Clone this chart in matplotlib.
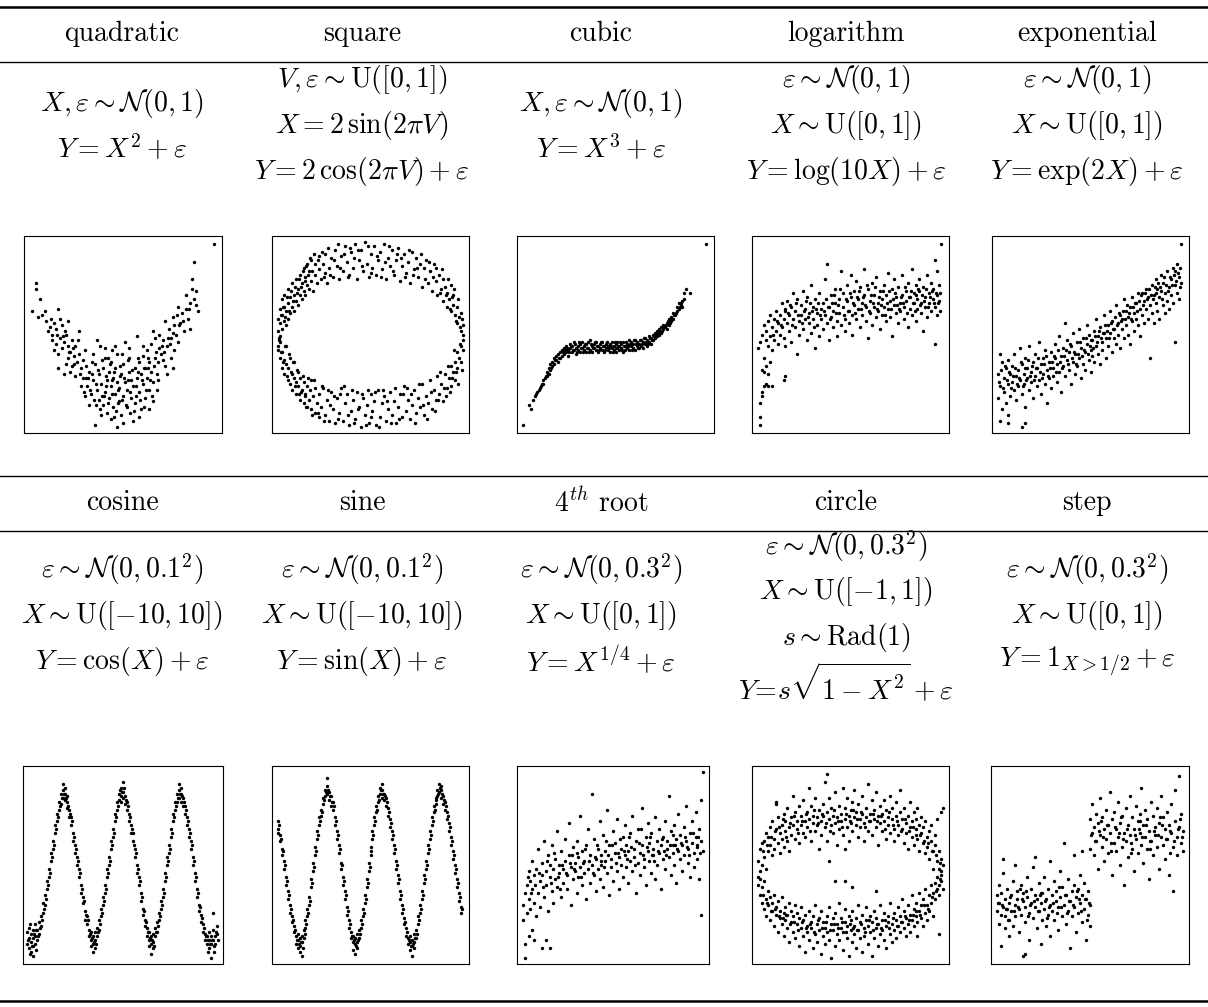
import numpy as np
import matplotlib
matplotlib.use("Agg")
from matplotlib import pyplot as plt

plt.rcParams['mathtext.fontset'] = 'cm'
plt.rcParams['axes.unicode_minus'] = False

W, H = 1208, 1007

# ---------------- intestazioni e formule ----------------
titoli_1 = ["quadratic", "square", "cubic", "logarithm", "exponential"]
titoli_2 = ["cosine", "sine", r"$4^{th}$ root", "circle", "step"]

formule_1 = [
    [r"$X,\varepsilon\sim\mathcal{N}(0,1)$", r"$Y=X^2+\varepsilon$"],
    [r"$V,\varepsilon\sim\mathrm{U}([0,1])$", r"$X=2\,\sin(2\pi V)$", r"$Y=2\,\cos(2\pi V)+\varepsilon$"],
    [r"$X,\varepsilon\sim\mathcal{N}(0,1)$", r"$Y=X^3+\varepsilon$"],
    [r"$\varepsilon\sim\mathcal{N}(0,1)$", r"$X\sim\mathrm{U}([0,1])$", r"$Y=\log(10X)+\varepsilon$"],
    [r"$\varepsilon\sim\mathcal{N}(0,1)$", r"$X\sim\mathrm{U}([0,1])$", r"$Y=\exp(2X)+\varepsilon$"],
]
formule_2 = [
    [r"$\varepsilon\sim\mathcal{N}(0,0.1^2)$", r"$X\sim\mathrm{U}([-10,10])$", r"$Y=\cos(X)+\varepsilon$"],
    [r"$\varepsilon\sim\mathcal{N}(0,0.1^2)$", r"$X\sim\mathrm{U}([-10,10])$", r"$Y=\sin(X)+\varepsilon$"],
    [r"$\varepsilon\sim\mathcal{N}(0,0.3^2)$", r"$X\sim\mathrm{U}([0,1])$", r"$Y=X^{1/4}+\varepsilon$"],
    [r"$\varepsilon\sim\mathcal{N}(0,0.3^2)$", r"$X\sim\mathrm{U}([-1,1])$", r"$s\sim\mathrm{Rad}(1)$", r"$Y\!=\!s\sqrt{1-X^2}+\varepsilon$"],
    [r"$\varepsilon\sim\mathcal{N}(0,0.3^2)$", r"$X\sim\mathrm{U}([0,1])$", r"$Y=\mathbf{1}_{X>1/2}+\varepsilon$"],
]

# ---------------- punti (in % del riquadro) ----------------
quadratic = [(4,62),(6,76),(6,73),(8,68),(7,59),(9,60),(11,57),(13,54),(12,52),(14,50),(15,56),(17,63),(18,58),(16,53),(19,55),(22,57),
    (14,47),(16,45),(18,48),(20,46),(21,50),(15,42),(17,40),(19,43),(22,44),(24,47),(17,33),(20,30),(22,38),(23,41),(25,39),(26,44),(28,52),
    (27,36),(24,34),(28,40),(29,33),(30,37),(26,29),(31,42),(21,35),(23,31),
    (30,28),(32,24),(33,31),(34,20),(35,27),(36,35),(37,47),(37,22),(38,17),(38,30),(39,25),(40,14),(40,33),(41,21),(41,38),(42,27),(42,10),
    (43,18),(43,31),(44,24),(44,36),(45,13),(45,28),(46,20),(46,33),(47,3),(47,26),(47,40),(48,16),(48,23),(49,30),(49,9),(50,19),(50,35),
    (51,46),(51,26),(52,13),(52,22),(53,31),(53,38),(54,18),(54,27),(55,6),(55,24),(56,33),(56,15),(57,49),(57,28),(58,21),(58,36),(59,12),
    (59,30),(60,25),(60,39),(61,18),(61,33),(62,28),(62,42),(63,22),(63,36),(64,31),(64,45),(65,16),(65,26),(66,38),(66,48),(67,30),(67,22),
    (68,43),(36,4),(39,9),(44,7),(50,5),(58,8),(33,14),(35,40),(31,19),(29,24),(63,12),(46,44),(53,43),(41,43),(60,44),
    (65,52),(68,50),(69,40),(70,47),(71,57),(71,34),(72,44),(73,53),(74,48),(75,33),(75,59),(76,55),(76,42),(77,50),(78,64),(78,46),(79,56),
    (80,61),(81,52),(82,70),(82,63),(83,58),(84,53),(84,66),(85,73),(86,87),(86,68),(87,65),(88,62),(85,78),(87,72),(70,37),(72,30),(74,38),(96,96)]
quadratic += [(30.5,21),(31.5,34),(32.5,28),(33.5,22),(34.5,36),(35.5,17),(36.5,25),(37.5,32),(38.5,12),(39.5,37),(40.5,19),(41.5,29),
    (42.5,15),(43.5,35),(44.5,20),(45.5,31),(46.5,11),(47.5,22),(48.5,34),(49.5,17),(50.5,28),(51.5,14),(52.5,37),(53.5,21),(54.5,32),
    (55.5,11),(56.5,24),(57.5,38),(58.5,17),(59.5,27),(60.5,33),(61.5,22),(62.5,38),(63.5,27),(64.5,19),(65.5,34),(66.5,41),(67.5,27),
    (44.5,27),(47.5,15),(52.5,27),(49.5,40),(39.5,19),(56.5,19),(42.5,38),(36.5,14),(60.5,13),(45.5,8),(53.5,10),(48.5,29),(41.5,24),
    (57.5,31),(34.5,30),(62.5,33),(38.5,44),(44.5,42),(31.5,28),(28.5,30),(25.5,35),(22.5,41),(19.5,49),(16.5,50),(13.5,58),(10.5,62),
    (69.5,44),(72.5,48),(75.5,51),(78.5,55),(80.5,57),(83.5,63),(67.5,36),(70.5,41),(73.5,45),(77.5,60),(20.5,52),(24.5,43),(27.5,47)]

square = [(3,44),(3,52),(3,58),(4,49),(4,56),(4,63),(5,53),(5,60),(5,68),(6,57),(6,64),(6,70),(7,55),(7,62),(8,58),(8,66),(8,73),(9,61),(9,69),
    (10,64),(10,76),(11,62),(11,70),(12,67),(12,78),(13,65),(13,73),(14,70),(14,80),(15,68),(15,76),(16,72),(16,84),(17,70),(17,79),(18,75),
    (18,86),(19,73),(19,82),(20,77),(20,88),(21,72),(22,80),(22,86),(23,76),(24,83),(24,90),(25,78),(26,86),(27,81),(27,91),(28,76),(29,84),
    (30,89),(31,79),(32,93),(33,85),(34,78),(35,90),(36,82),(37,95),(38,87),(39,80),(40,92),(41,84),(42,96),(43,78),(44,88),(45,93),(46,82),
    (47,97),(48,86),(49,79),(50,91),(51,84),(52,95),(53,80),(54,88),(55,92),(56,83),(57,96),(58,78),(59,89),(60,85),(61,93),(62,80),(63,88),
    (64,94),(65,77),(66,85),(67,91),(68,81),(69,87),(70,76),(71,92),(72,83),(73,89),(74,79),(75,86),(76,74),(77,84),(78,88),(79,76),(80,82),
    (81,72),(82,86),(83,77),(84,70),(85,80),(86,73),(87,67),(87,78),(88,74),(89,64),(89,71),(90,68),(91,62),(91,75),(92,65),(92,70),(93,60),
    (94,64),(94,56),(95,59),(96,52),(96,61),(97,47),(97,55),
    (3,42),(4,38),(4,46),(5,33),(5,41),(6,30),(6,37),(7,35),(7,44),(8,27),(8,33),(9,25),(9,38),(10,22),(10,30),(11,28),(11,36),(12,20),(12,26),
    (13,24),(13,31),(14,17),(14,28),(15,22),(16,15),(16,26),(17,20),(18,13),(18,24),(19,17),(20,12),(20,27),(21,19),(22,10),(22,23),(23,15),
    (24,8),(24,20),(25,13),(26,23),(27,9),(28,17),(29,6),(30,21),(31,12),(32,5),(33,18),(34,10),(35,23),(36,6),(37,15),(38,20),(39,4),(40,11),
    (41,17),(42,7),(43,21),(44,13),(45,3),(46,18),(47,9),(48,14),(49,5),(50,20),(51,11),(52,16),(53,4),(54,22),(55,8),(56,15),(57,19),(58,6),
    (59,12),(60,21),(61,9),(62,16),(63,5),(64,13),(65,20),(66,8),(67,24),(68,11),(69,17),(70,7),(71,14),(72,22),(73,10),(74,18),(75,13),
    (76,25),(77,9),(78,19),(79,15),(80,27),(81,12),(82,22),(83,17),(84,29),(85,20),(86,25),(87,16),(88,30),(89,23),(90,28),(91,34),(91,24),
    (92,31),(93,27),(93,36),(94,33),(94,41),(95,38),(96,36),(96,44),(97,42),(97,50)]
square += [(3.5,47),(4.5,60),(5.5,64),(6.5,59),(7.5,69),(8.5,62),(9.5,72),(10.5,67),(11.5,74),(12.5,71),(13.5,78),(14.5,74),(15.5,82),
    (16.5,77),(17.5,85),(18.5,80),(19.5,89),(20.5,82),(21.5,91),(23.5,88),(25.5,92),(26.5,79),(28.5,94),(29.5,80),(31.5,88),(33.5,96),
    (34.5,84),(36.5,91),(38.5,79),(39.5,94),(41.5,89),(43.5,93),(45.5,85),(48.5,95),(50.5,81),(53.5,90),(55.5,79),(57.5,87),(59.5,95),
    (61.5,82),(63.5,91),(65.5,89),(67.5,79),(69.5,93),(71.5,80),(73.5,84),(75.5,91),(77.5,78),(79.5,87),(81.5,79),(83.5,84),(85.5,71),
    (86.5,83),(88.5,70),(89.5,78),(90.5,63),(91.5,69),(92.5,73),(93.5,57),(94.5,68),(95.5,54),(96.5,58),
    (3.5,48),(4.5,41),(5.5,36),(6.5,44),(7.5,29),(8.5,40),(9.5,31),(10.5,36),(11.5,24),(12.5,32),(13.5,20),(14.5,21),(15.5,29),(16.5,19),
    (17.5,13),(18.5,28),(19.5,22),(20.5,9),(21.5,27),(23.5,10),(25.5,24),(26.5,6),(28.5,22),(29.5,14),(31.5,19),(33.5,7),(34.5,20),
    (36.5,24),(38.5,9),(40.5,22),(41.5,5),(43.5,12),(45.5,20),(47.5,4),(48.5,22),(50.5,8),(52.5,21),(54.5,3),(56.5,22),(58.5,16),(60.5,5),
    (62.5,23),(64.5,7),(66.5,20),(68.5,23),(70.5,20),(72.5,5),(74.5,25),(76.5,14),(78.5,7),(80.5,21),(82.5,11),(84.5,17),(85.5,31),
    (87.5,23),(88.5,19),(89.5,34),(90.5,21),(91.5,28),(92.5,42),(93.5,31),(94.5,25),(95.5,45),(96.5,32)]

cubic = [(3,4),(6,14),(7,12),(8,17),(9,19),(10,21),(11,22),(12,24),(13,25),(13,27),(14,28),(15,29),(15,31),(16,30),(16,33),(17,32),(17,35),
    (18,34),(18,36),(19,35),(19,38),(20,37),(20,39),(21,36),(21,40),(22,38),(22,41),(23,39),(23,42),(24,40),(24,43),(25,41),(25,44),(26,39),
    (26,42),(27,43),(27,45),(28,41),(28,44),(29,42),(29,46),(30,43),(30,40),(31,44),(31,42),(32,45),(32,41),(33,43),(33,46),(34,42),(34,44),
    (35,45),(35,41),(36,43),(36,46),(37,47),(37,42),(38,44),(38,41),(39,45),(39,43),(40,42),(40,46),(41,44),(41,41),(42,43),(42,45),(43,42),
    (43,46),(44,44),(44,41),(45,43),(45,45),(46,42),(46,44),(47,41),(47,45),(48,43),(48,46),(49,42),(49,44),(50,45),(50,41),(51,43),(51,46),
    (52,44),(52,42),(53,45),(53,43),(54,41),(54,46),(55,44),(55,42),(56,45),(56,43),(57,47),(57,42),(58,44),(58,46),(59,43),(59,45),(60,42),
    (60,47),(61,44),(61,46),(62,45),(62,43),(63,47),(63,44),(64,43),(64,46),(65,45),(65,48),(66,44),(66,47),(67,46),(67,49),(68,45),(68,48),
    (69,47),(69,50),(70,48),(70,51),(71,49),(71,52),(72,50),(72,53),(73,51),(73,54),(74,53),(74,55),(75,54),(76,56),(76,53),(77,55),(77,58),
    (78,57),(78,59),(79,58),(79,61),(80,60),(81,62),(81,64),(82,63),(82,66),(83,65),(84,67),(84,64),(85,68),(85,71),(86,73),(88,71),(96,96)]
cubic += [(26.5,41),(27.5,44),(28.5,42),(29.5,45),(30.5,41),(31.5,46),(32.5,43),(33.5,41),(34.5,45),(35.5,43),(36.5,41),(37.5,45),
    (38.5,43),(39.5,46),(40.5,44),(41.5,42),(42.5,46),(43.5,44),(44.5,42),(45.5,46),(46.5,43),(47.5,44),(48.5,41),(49.5,46),(50.5,43),
    (51.5,44),(52.5,46),(53.5,42),(54.5,44),(55.5,46),(56.5,44),(57.5,45),(58.5,42),(59.5,47),(60.5,45),(61.5,43),(62.5,47),(63.5,45),
    (64.5,48),(65.5,46),(66.5,45),(67.5,48),(68.5,47),(69.5,49),(70.5,50),(71.5,51),(72.5,52),(73.5,52),(74.5,54),(75.5,55),(76.5,57),
    (77.5,56),(78.5,58),(79.5,60),(80.5,61),(82.5,64),(83.5,66),(23.5,41),(24.5,42),(25.5,43),(21.5,38),(19.5,37),(17.5,33),(15.5,30),
    (14.5,29),(12.5,25),(11.5,23),(9.5,20)]

logarithm = [(4,4),(4,8),(4,15),(5,19),(5,21),(6,24),(7,25),(8,24),(6,31),(7,34),(5,32),(8,30),(9,36),(10,24),(16,27),(17,29),(3,43),(4,46),
    (5,50),(6,38),(6,55),(7,47),(7,52),(8,44),(8,57),(9,49),(9,60),(10,42),(10,54),(11,58),(11,47),(12,52),(12,62),(13,45),(13,56),(14,60),
    (14,50),(15,66),(15,54),(16,48),(16,58),(17,62),(17,44),(18,56),(18,67),(19,52),(19,60),(20,46),(20,64),(21,58),(21,71),(22,54),(22,62),
    (23,40),(23,68),(24,57),(24,50),(25,65),(25,60),(26,53),(26,72),(27,58),(27,63),(28,47),(28,69),(29,56),(29,61),(30,75),(30,51),(31,64),
    (31,58),(32,43),(32,68),(33,55),(33,61),(34,71),(34,49),(35,63),(35,58),(36,66),(36,53),(37,60),(37,78),(38,86),(38,56),(39,64),(39,47),
    (40,70),(40,59),(41,62),(41,54),(42,73),(42,66),(43,57),(43,49),(44,68),(44,61),(45,82),(45,55),(46,64),(46,71),(47,58),(47,52),(48,67),
    (48,75),(49,62),(49,56),(50,80),(50,69),(51,60),(51,50),(52,65),(52,72),(53,58),(53,77),(54,63),(54,68),(55,54),(55,74),(56,66),(56,60),
    (57,83),(57,70),(58,57),(58,64),(59,73),(59,48),(60,67),(60,61),(61,76),(61,55),(62,64),(62,70),(63,59),(63,79),(64,66),(64,62),(65,72),
    (65,53),(66,68),(66,60),(67,75),(67,64),(68,57),(68,70),(69,81),(69,63),(70,67),(70,59),(71,73),(71,49),(72,65),(72,78),(73,61),(73,69),
    (74,56),(74,74),(75,66),(75,62),(76,80),(76,70),(77,58),(77,64),(78,72),(78,67),(79,54),(79,76),(80,63),(80,69),(81,83),(81,60),(82,71),
    (82,66),(83,75),(83,57),(84,68),(84,63),(85,78),(85,72),(86,61),(86,66),(87,74),(87,52),(88,69),(88,64),(89,80),(89,59),(90,71),(90,66),
    (91,76),(91,62),(92,68),(92,73),(93,45),(93,64),(94,82),(94,70),(95,67),(95,75),(96,96),(93,88),(94,60)]
logarithm += [(10.5,50),(12.5,57),(14.5,55),(16.5,63),(18.5,61),(19.5,65),(20.5,55),(22.5,66),(23.5,60),(25.5,56),(26.5,62),(27.5,67),
    (28.5,59),(29.5,66),(30.5,62),(31.5,54),(32.5,63),(33.5,66),(34.5,60),(36.5,62),(37.5,68),(38.5,64),(39.5,58),(40.5,66),(41.5,70),
    (42.5,61),(43.5,65),(44.5,73),(46.5,60),(47.5,68),(48.5,62),(49.5,71),(51.5,66),(52.5,61),(53.5,69),(54.5,72),(55.5,63),(56.5,69),
    (57.5,65),(58.5,75),(59.5,62),(60.5,70),(61.5,66),(62.5,74),(63.5,63),(64.5,69),(65.5,65),(66.5,72),(67.5,60),(68.5,66),(69.5,72),
    (70.5,63),(71.5,68),(72.5,71),(73.5,65),(74.5,63),(75.5,69),(76.5,66),(77.5,74),(78.5,61),(79.5,69),(80.5,72),(81.5,66),(82.5,62),
    (83.5,70),(84.5,73),(85.5,65),(86.5,70),(87.5,67),(88.5,73),(89.5,64),(90.5,69),(91.5,72),(92.5,66),(93.5,71),(94.5,66),(95.5,62),(95.5,71)]

exponential = [(4,6),(8,5),(15,3),(17,5),(8,9),(5,12),(3,18),(4,24),(3,30),(5,36),(4,40),(6,21),(6,28),(7,33),(7,15),(8,25),(8,37),(9,19),
    (9,30),(10,26),(10,34),(11,22),(11,40),(12,17),(12,29),(13,32),(13,24),(14,27),(14,43),(15,20),(15,35),(16,30),(16,25),(17,38),(17,13),
    (18,28),(18,33),(19,22),(19,44),(20,31),(20,26),(21,36),(21,18),(22,29),(22,40),(23,24),(23,33),(24,27),(24,46),(25,35),(25,20),(26,30),
    (26,38),(27,25),(27,42),(28,32),(28,15),(29,28),(29,36),(30,41),(30,23),(31,33),(31,29),(32,38),(32,45),(33,26),(33,35),(34,31),(34,49),
    (35,39),(35,21),(36,34),(36,43),(37,56),(37,29),(38,37),(38,47),(39,32),(39,41),(40,25),(40,44),(41,36),(41,51),(42,30),(42,40),(43,46),
    (43,34),(44,38),(44,53),(45,28),(45,43),(46,35),(46,48),(47,41),(47,32),(48,45),(48,55),(49,37),(49,50),(50,42),(50,31),(51,47),(51,39),
    (52,52),(52,36),(53,44),(53,58),(54,40),(54,49),(55,35),(55,54),(56,46),(56,42),(57,51),(57,60),(58,38),(58,48),(59,55),(59,44),(60,51),
    (60,62),(61,41),(61,57),(62,48),(62,53),(63,45),(63,65),(64,56),(64,50),(65,60),(65,43),(66,53),(66,58),(67,48),(67,68),(68,55),(68,62),
    (69,50),(69,59),(70,64),(70,45),(71,57),(71,69),(72,61),(72,52),(73,66),(73,58),(74,55),(74,71),(75,63),(75,49),(76,71),(76,60),(77,67),
    (77,56),(78,73),(78,63),(79,58),(79,69),(80,38),(80,65),(81,75),(81,61),(82,70),(82,56),(83,78),(83,66),(84,62),(84,73),(85,69),(85,58),
    (86,80),(86,72),(87,65),(87,76),(88,61),(88,71),(89,82),(89,67),(90,74),(90,63),(91,78),(91,70),(92,84),(92,66),(93,46),(93,82),(93,75),
    (94,86),(94,71),(95,79),(95,68),(96,76),(96,96)]
exponential += [(3.5,26),(4.5,32),(5.5,23),(6.5,34),(7.5,27),(8.5,31),(9.5,23),(10.5,29),(11.5,33),(12.5,25),(13.5,28),(14.5,36),
    (15.5,24),(16.5,33),(17.5,27),(18.5,37),(19.5,29),(20.5,34),(21.5,27),(22.5,33),(23.5,38),(24.5,31),(25.5,28),(26.5,35),(27.5,39),
    (28.5,29),(29.5,33),(30.5,36),(31.5,39),(32.5,31),(33.5,42),(34.5,36),(35.5,33),(36.5,39),(37.5,42),(38.5,35),(39.5,45),(40.5,38),
    (41.5,41),(42.5,35),(43.5,40),(44.5,46),(45.5,39),(46.5,42),(47.5,48),(48.5,40),(49.5,44),(50.5,47),(51.5,43),(52.5,49),(53.5,46),
    (54.5,52),(55.5,48),(56.5,51),(57.5,55),(58.5,52),(59.5,48),(60.5,56),(61.5,53),(62.5,59),(63.5,55),(64.5,61),(65.5,57),(66.5,62),
    (67.5,58),(68.5,65),(69.5,61),(70.5,58),(71.5,64),(72.5,66),(73.5,62),(74.5,67),(75.5,70),(76.5,65),(77.5,71),(78.5,68),(79.5,73),
    (80.5,70),(81.5,68),(82.5,74),(83.5,71),(84.5,76),(85.5,74),(86.5,68),(87.5,79),(88.5,75),(89.5,72),(90.5,79),(91.5,75),(92.5,80),
    (93.5,77),(94.5,81),(95.5,74),(95.5,84)]

cosine = [(2,10),(2,16),(3,8),(3,13),(3,18),(4,6),(4,11),(4,15),(5,9),(5,13),(5,17),(5,4),(6,10),(6,14),(6,20),(7,12),(7,17),(8,15),(8,21),
    (9,19),(9,24),(10,26),(10,31),(11,30),(11,35),(12,38),(12,42),(13,44),(13,48),(14,52),(14,56),(15,58),(15,62),(16,66),(16,70),(17,72),
    (17,76),(18,78),(18,82),(19,81),(19,86),(20,84),(20,88),(20,91),(21,86),(21,83),(21,89),(22,82),(22,79),(22,85),(23,78),(23,74),(24,70),
    (24,74),(25,66),(25,62),(26,60),(26,56),(27,50),(27,54),(28,44),(28,48),(29,40),(29,36),(30,31),(30,34),(31,27),(31,22),(32,20),(32,24),
    (33,17),(33,14),(34,12),(34,16),(34,9),(35,10),(35,14),(35,6),(36,12),(36,16),(36,8),(37,14),(37,18),(38,17),(38,22),(39,24),(39,28),
    (40,30),(40,34),(41,36),(41,40),(42,44),(42,48),(43,50),(43,54),(44,58),(44,62),(45,64),(45,68),(46,72),(46,76),(47,78),(47,82),(48,83),
    (48,86),(49,85),(49,89),(49,82),(50,87),(50,92),(50,84),(51,85),(51,81),(52,82),(52,78),(53,76),(53,72),(54,70),(54,66),(55,62),(55,66),
    (56,58),(56,54),(57,50),(57,46),(58,44),(58,40),(59,36),(59,32),(60,28),(60,25),(61,22),(61,19),(62,18),(62,14),(63,12),(63,16),(63,9),
    (64,10),(64,14),(64,5),(65,11),(65,15),(65,8),(66,14),(66,18),(67,16),(67,21),(68,22),(68,26),(69,28),(69,32),(70,34),(70,38),(71,42),
    (71,46),(72,50),(72,54),(73,56),(73,60),(74,64),(74,68),(75,72),(75,76),(76,78),(76,82),(77,82),(77,86),(78,84),(78,88),(78,91),(79,86),
    (79,82),(79,89),(80,84),(80,80),(81,80),(81,76),(82,74),(82,70),(83,68),(83,64),(84,62),(84,58),(85,54),(85,50),(86,46),(86,42),(87,38),
    (87,34),(88,30),(88,27),(89,25),(89,21),(90,20),(90,16),(91,15),(91,12),(92,14),(92,10),(93,12),(93,8),(93,16),(94,10),(94,14),(94,3),
    (95,12),(95,17),(96,14),(96,10),(97,15),(97,19),(95,26)]
cosine += [(2.5,12),(3.5,20),(4.5,9),(5.5,15),(6.5,7),(7.5,14),(3.5,5),(6.5,17),(8.5,18),(9.5,22),(10.5,28),(11.5,33),(12.5,40),
    (13.5,46),(14.5,54),(15.5,60),(16.5,68),(17.5,74),(18.5,80),(19.5,84),(20.5,86),(21.5,84),(22.5,80),(23.5,76),(24.5,72),(25.5,64),
    (26.5,58),(27.5,52),(28.5,46),(29.5,38),(30.5,32),(31.5,25),(32.5,22),(33.5,15),(34.5,13),(35.5,11),(36.5,10),(37.5,16),(38.5,20),
    (39.5,26),(40.5,32),(41.5,38),(42.5,46),(43.5,52),(44.5,60),(45.5,66),(46.5,74),(47.5,80),(48.5,88),(49.5,87),(50.5,89),(51.5,83),
    (52.5,80),(53.5,74),(54.5,68),(55.5,60),(56.5,56),(57.5,48),(58.5,42),(59.5,34),(60.5,27),(61.5,21),(62.5,16),(63.5,13),(64.5,12),
    (65.5,9),(66.5,16),(67.5,19),(68.5,24),(69.5,30),(70.5,36),(71.5,44),(72.5,52),(73.5,58),(74.5,66),(75.5,74),(76.5,80),(77.5,84),
    (78.5,86),(79.5,85),(80.5,82),(81.5,78),(82.5,72),(83.5,66),(84.5,60),(85.5,52),(86.5,44),(87.5,36),(88.5,29),(89.5,23),(90.5,18),
    (91.5,14),(92.5,12),(93.5,10),(94.5,12),(95.5,9),(96.5,16),(97.5,12),(92.5,6),(95.5,6)]

sine = [(3,72),(3,68),(3,66),(4,65),(4,62),(5,58),(5,55),(6,52),(6,48),(7,44),(7,40),(8,37),(8,33),(9,30),(9,26),(10,24),(10,21),(11,19),
    (11,16),(12,14),(12,10),(13,12),(13,8),(13,15),(14,9),(14,6),(14,13),(15,11),(15,4),(15,14),(16,13),(16,17),(17,18),(17,22),(18,24),
    (18,28),(19,30),(19,34),(20,39),(20,43),(21,47),(21,51),(22,55),(22,59),(23,63),(23,67),(24,70),(24,74),(25,78),(25,75),(26,81),(26,84),
    (27,85),(27,88),(28,86),(28,90),(28,94),(29,87),(29,83),(30,85),(30,80),(31,78),(31,82),(32,74),(32,70),(33,67),(33,63),(34,60),(34,56),
    (35,51),(35,48),(36,44),(36,40),(37,37),(37,33),(38,29),(38,25),(39,22),(39,18),(40,16),(40,13),(41,11),(41,14),(41,7),(42,10),(42,13),
    (42,5),(43,11),(43,8),(43,15),(44,13),(44,17),(45,18),(45,22),(46,24),(46,28),(47,31),(47,35),(48,39),(48,43),(49,47),(49,51),(50,55),
    (50,59),(51,63),(51,67),(52,70),(52,74),(53,77),(53,80),(54,82),(54,85),(55,86),(55,89),(56,88),(56,84),(56,91),(57,86),(57,83),(58,84),
    (58,80),(59,79),(59,75),(60,73),(60,69),(61,67),(61,63),(62,60),(62,56),(63,52),(63,48),(64,45),(64,41),(65,37),(65,33),(66,30),(66,26),
    (67,23),(67,20),(68,18),(68,14),(69,13),(69,10),(70,11),(70,7),(70,14),(71,9),(71,12),(71,4),(72,11),(72,15),(72,8),(73,13),(73,17),
    (74,20),(74,24),(75,26),(75,30),(76,33),(76,37),(77,41),(77,45),(78,48),(78,52),(79,56),(79,60),(80,63),(80,67),(81,70),(81,74),(82,77),
    (82,80),(83,81),(83,84),(84,85),(84,88),(85,87),(85,91),(86,88),(86,84),(86,90),(87,85),(87,81),(88,82),(88,78),(89,77),(89,73),(90,71),
    (90,67),(91,64),(91,60),(92,57),(92,53),(93,50),(93,46),(94,43),(94,39),(95,36),(95,32),(96,29),(96,26)]
sine += [(3.5,70),(4.5,63),(5.5,57),(6.5,50),(7.5,42),(8.5,35),(9.5,28),(10.5,22),(11.5,17),(12.5,12),(13.5,10),(14.5,11),(15.5,8),
    (16.5,15),(17.5,20),(18.5,26),(19.5,32),(20.5,41),(21.5,49),(22.5,57),(23.5,65),(24.5,72),(25.5,77),(26.5,83),(27.5,87),(28.5,88),
    (29.5,85),(30.5,82),(31.5,80),(32.5,72),(33.5,65),(34.5,58),(35.5,50),(36.5,42),(37.5,35),(38.5,27),(39.5,20),(40.5,14),(41.5,12),
    (42.5,9),(43.5,12),(44.5,15),(45.5,20),(46.5,26),(47.5,33),(48.5,41),(49.5,49),(50.5,57),(51.5,65),(52.5,72),(53.5,78),(54.5,83),
    (55.5,88),(56.5,86),(57.5,85),(58.5,82),(59.5,77),(60.5,71),(61.5,65),(62.5,58),(63.5,50),(64.5,43),(65.5,35),(66.5,28),(67.5,21),
    (68.5,16),(69.5,12),(70.5,9),(71.5,10),(72.5,13),(73.5,15),(74.5,22),(75.5,28),(76.5,35),(77.5,43),(78.5,50),(79.5,58),(80.5,65),
    (81.5,72),(82.5,78),(83.5,83),(84.5,86),(85.5,89),(86.5,86),(87.5,83),(88.5,80),(89.5,75),(90.5,69),(91.5,62),(92.5,55),(93.5,48),
    (94.5,41),(95.5,34),(96.5,28)]

root4 = [(4,3),(4,10),(6,14),(8,17),(9,12),(13,8),(15,12),(17,8),(3,22),(3,30),(4,36),(5,26),(5,40),(6,33),(6,47),(7,28),(7,42),(8,38),
    (8,52),(9,31),(9,45),(10,24),(10,48),(11,36),(11,58),(12,42),(12,29),(13,51),(13,45),(14,34),(14,62),(15,47),(15,40),(16,55),(16,27),
    (17,44),(17,50),(18,37),(18,60),(19,48),(19,31),(20,53),(20,43),(21,39),(21,67),(22,50),(22,46),(23,34),(23,57),(24,48),(24,41),(25,63),
    (25,52),(26,38),(26,45),(27,55),(27,71),(28,49),(28,30),(29,43),(29,59),(30,51),(30,47),(31,36),(31,62),(32,54),(32,44),(33,49),(33,75),
    (34,40),(34,57),(35,52),(35,46),(36,33),(36,60),(37,48),(37,68),(38,55),(38,41),(39,86),(39,50),(40,45),(40,63),(41,53),(41,37),(42,58),
    (42,48),(43,72),(43,43),(44,55),(44,50),(45,39),(45,65),(46,52),(46,57),(47,46),(47,78),(48,60),(48,35),(49,53),(49,49),(50,67),(50,42),
    (51,56),(51,61),(52,47),(52,73),(53,54),(53,38),(54,58),(54,50),(55,64),(55,44),(56,55),(56,70),(57,49),(57,60),(58,41),(58,57),(59,66),
    (59,52),(60,47),(60,75),(61,58),(61,54),(62,36),(62,62),(63,51),(63,68),(64,56),(64,45),(65,60),(65,79),(66,53),(66,49),(67,64),(67,40),
    (68,57),(68,71),(69,52),(69,61),(70,46),(70,66),(71,58),(71,55),(72,74),(72,43),(73,62),(73,50),(74,56),(74,68),(75,38),(75,60),(76,53),
    (76,64),(77,72),(77,48),(78,58),(78,62),(79,85),(79,54),(80,45),(80,67),(81,60),(81,56),(82,70),(82,50),(83,63),(83,41),(84,57),(84,76),
    (85,53),(85,65),(86,60),(86,47),(87,69),(87,55),(88,62),(88,80),(89,51),(89,58),(90,66),(90,44),(91,61),(91,72),(92,56),(92,49),(93,64),
    (93,77),(94,59),(94,53),(95,68),(95,43),(96,25),(96,62),(97,97),(96,83),(97,57)]
root4 += [(5.5,44),(7.5,36),(9.5,40),(11.5,46),(13.5,39),(15.5,52),(17.5,41),(19.5,56),(21.5,44),(23.5,50),(25.5,46),(27.5,51),(29.5,48),
    (31.5,56),(33.5,44),(35.5,58),(37.5,52),(39.5,46),(41.5,60),(43.5,52),(45.5,49),(47.5,55),(49.5,60),(51.5,51),(53.5,63),(55.5,57),
    (57.5,53),(59.5,59),(61.5,50),(63.5,61),(65.5,55),(67.5,59),(69.5,64),(71.5,52),(73.5,57),(75.5,63),(77.5,55),(79.5,60),(81.5,65),
    (83.5,58),(85.5,61),(87.5,64),(89.5,55),(91.5,66),(93.5,60),(95.5,56),(22.5,38),(34.5,51),(46.5,62),(58.5,64),(70.5,55),(82.5,60),
    (94.5,64),(28.5,55),(40.5,54),(52.5,56),(64.5,68),(76.5,57),(88.5,59)]

circle = [(3,44),(3,52),(4,47),(4,58),(5,50),(5,61),(6,54),(6,62),(7,48),(7,66),(8,57),(8,64),(9,60),(9,69),(10,55),(10,72),(11,63),(11,58),
    (12,68),(12,81),(13,61),(13,74),(14,66),(14,56),(15,70),(15,63),(16,76),(16,59),(17,67),(17,72),(18,62),(18,79),(19,69),(19,57),(20,74),
    (20,65),(21,70),(21,85),(22,63),(22,77),(23,68),(23,72),(24,80),(24,61),(25,70),(25,75),(26,66),(26,83),(27,72),(27,64),(28,77),(28,69),
    (29,89),(29,73),(30,62),(30,80),(31,71),(31,75),(32,67),(32,84),(33,74),(33,70),(34,58),(34,78),(35,72),(35,65),(36,81),(36,75),(37,69),
    (37,92),(38,77),(38,62),(39,73),(39,84),(40,70),(40,79),(41,66),(41,75),(42,87),(42,71),(43,74),(43,60),(44,80),(44,68),(45,76),(45,72),
    (46,89),(46,65),(47,73),(47,79),(48,69),(48,84),(49,75),(49,62),(50,78),(50,71),(51,82),(51,67),(52,74),(52,88),(53,70),(53,77),(54,64),
    (54,81),(55,73),(55,69),(56,85),(56,76),(57,71),(57,62),(58,79),(58,74),(59,67),(59,91),(60,76),(60,72),(61,83),(61,65),(62,73),(62,78),
    (63,69),(63,87),(64,75),(64,60),(65,80),(65,71),(66,67),(66,76),(67,83),(67,72),(68,63),(68,78),(69,70),(69,74),(70,85),(70,66),(71,73),
    (71,79),(72,68),(72,62),(73,75),(73,82),(74,70),(74,65),(75,77),(75,88),(76,68),(76,73),(77,61),(77,79),(78,71),(78,66),(79,75),(79,58),
    (80,69),(80,82),(81,64),(81,72),(82,77),(82,60),(83,68),(83,73),(84,63),(84,79),(85,70),(85,57),(86,66),(86,74),(87,61),(87,69),(88,56),
    (88,72),(89,64),(89,59),(90,67),(90,53),(91,62),(91,70),(92,57),(92,48),(93,60),(93,65),(94,52),(94,73),(95,57),(95,48),(96,53),(96,45),
    (97,50),(97,79),
    (3,40),(4,35),(4,43),(5,31),(5,39),(6,28),(6,42),(7,33),(7,24),(8,30),(8,37),(9,22),(9,34),(10,27),(10,31),(11,19),(11,35),(12,25),(12,29),
    (13,16),(13,32),(14,23),(14,27),(15,20),(15,34),(16,26),(16,14),(17,22),(17,29),(18,18),(18,25),(19,31),(19,11),(20,21),(20,27),(21,16),
    (21,24),(22,30),(22,13),(23,20),(23,26),(24,9),(24,23),(25,18),(25,29),(26,14),(26,22),(27,25),(27,6),(28,19),(28,16),(29,27),(29,12),
    (30,21),(30,18),(31,24),(31,8),(32,15),(32,30),(33,20),(33,11),(34,23),(34,17),(35,5),(35,27),(36,14),(36,21),(37,18),(37,10),(38,24),
    (38,16),(39,29),(39,12),(40,20),(40,3),(41,17),(41,23),(42,9),(42,26),(43,15),(43,20),(44,31),(44,12),(45,18),(45,23),(46,7),(46,16),
    (47,21),(47,28),(48,13),(48,19),(49,24),(49,4),(50,17),(50,22),(51,11),(51,27),(52,19),(52,15),(53,23),(53,8),(54,30),(54,17),(55,13),
    (55,21),(56,25),(56,6),(57,18),(57,14),(58,22),(58,29),(59,10),(59,19),(60,24),(60,16),(61,4),(61,21),(62,27),(62,13),(63,18),(63,23),
    (64,9),(64,20),(65,15),(65,30),(66,22),(66,17),(67,12),(67,26),(68,19),(68,8),(69,24),(69,21),(70,15),(70,31),(71,20),(71,11),(72,26),
    (72,17),(73,22),(73,13),(74,29),(74,19),(75,16),(75,24),(76,33),(76,21),(77,18),(77,27),(78,14),(78,23),(79,30),(79,20),(80,25),(80,16),
    (81,35),(81,22),(82,28),(82,19),(83,24),(83,31),(84,21),(84,14),(85,27),(85,36),(86,23),(86,30),(87,19),(87,33),(88,26),(88,38),(89,30),
    (89,22),(90,35),(90,27),(91,40),(91,31),(92,36),(92,24),(93,41),(93,33),(94,38),(94,44),(95,40),(95,35),(96,42),(96,47),(97,38),(95,15),
    (42,42),(47,42),(51,39),(63,37),(39,52),(47,58),(38,96),(12,82),(96,77)]
circle += [(5.5,57),(7.5,60),(9.5,64),(11.5,67),(13.5,69),(15.5,73),(17.5,64),(19.5,71),(21.5,75),(23.5,66),(25.5,72),(27.5,76),
    (29.5,67),(31.5,78),(33.5,71),(35.5,76),(37.5,71),(39.5,67),(41.5,78),(43.5,72),(45.5,69),(47.5,76),(49.5,72),(51.5,78),(53.5,73),
    (55.5,77),(57.5,69),(59.5,72),(61.5,76),(63.5,72),(65.5,75),(67.5,68),(69.5,77),(71.5,70),(73.5,72),(75.5,67),(77.5,73),(79.5,67),
    (81.5,69),(83.5,65),(85.5,65),(87.5,62),(89.5,61),(91.5,57),(93.5,55),(95.5,51),
    (5.5,35),(7.5,31),(9.5,27),(11.5,28),(13.5,24),(15.5,23),(17.5,25),(19.5,20),(21.5,21),(23.5,17),(25.5,21),(27.5,18),(29.5,20),
    (31.5,16),(33.5,22),(35.5,18),(37.5,21),(39.5,17),(41.5,20),(43.5,18),(45.5,21),(47.5,16),(49.5,20),(51.5,18),(53.5,17),(55.5,20),
    (57.5,16),(59.5,22),(61.5,17),(63.5,20),(65.5,18),(67.5,22),(69.5,18),(71.5,23),(73.5,19),(75.5,21),(77.5,24),(79.5,22),(81.5,25),
    (83.5,27),(85.5,25),(87.5,30),(89.5,28),(91.5,34),(93.5,37),(95.5,43)]

step = [(3,27),(3,35),(4,20),(4,31),(4,40),(5,9),(5,25),(5,36),(6,29),(6,46),(7,18),(7,33),(7,24),(8,38),(8,28),(9,14),(9,31),(9,22),(10,35),
    (10,27),(11,42),(11,19),(12,30),(12,24),(13,37),(13,33),(14,16),(14,28),(15,40),(15,25),(16,4),(16,32),(16,36),(17,5),(17,21),(17,29),
    (18,44),(18,34),(19,26),(19,12),(20,31),(20,38),(21,23),(21,49),(22,29),(22,35),(23,18),(23,33),(24,41),(24,27),(25,31),(25,10),(26,36),
    (26,22),(27,28),(27,44),(28,33),(28,19),(29,38),(29,25),(30,30),(30,14),(31,35),(31,27),(32,42),(32,22),(33,32),(33,37),(34,17),(34,29),
    (35,34),(35,47),(36,24),(36,39),(37,61),(37,30),(38,20),(38,35),(39,27),(39,43),(40,32),(40,8),(41,37),(41,24),(42,29),(42,40),(43,34),
    (43,16),(44,26),(44,38),(45,31),(45,45),(46,21),(46,35),(47,28),(47,41),(48,33),(48,12),(49,25),(49,37),(50,30),(50,19),(12,50),(6,53),
    (22,54),(30,52),(42,55),(46,57),
    (50,73),(50,58),(51,66),(51,81),(52,55),(52,69),(53,76),(53,62),(54,48),(54,71),(55,65),(55,84),(56,59),(56,74),(57,68),(57,52),(58,78),
    (58,63),(59,70),(59,56),(60,66),(60,87),(61,73),(61,45),(62,61),(62,77),(63,68),(63,57),(64,82),(64,64),(65,71),(65,50),(66,59),(66,75),
    (67,66),(67,40),(68,79),(68,62),(69,70),(69,54),(70,65),(70,85),(71,74),(71,58),(72,68),(72,47),(73,63),(73,80),(74,72),(74,56),(75,66),
    (75,76),(76,60),(76,89),(77,70),(77,51),(78,64),(78,78),(79,73),(79,58),(80,67),(80,43),(81,62),(81,82),(82,75),(82,55),(83,69),(83,65),
    (84,79),(84,59),(85,71),(85,48),(86,64),(86,85),(87,74),(87,60),(88,68),(88,53),(89,77),(89,63),(90,70),(90,45),(91,66),(91,81),(92,37),
    (92,59),(93,72),(93,88),(94,64),(94,55),(95,95),(95,69),(96,76),(96,61),(97,67),(97,57)]
step += [(3.5,31),(5.5,30),(7.5,28),(9.5,34),(11.5,27),(13.5,29),(15.5,33),(17.5,37),(19.5,30),(21.5,32),(23.5,27),(25.5,36),(27.5,32),
    (29.5,29),(31.5,31),(33.5,26),(35.5,29),(37.5,35),(39.5,32),(41.5,30),(43.5,37),(45.5,27),(47.5,33),(49.5,31),(8.5,22),(18.5,24),
    (28.5,23),(38.5,26),(48.5,22),(14.5,38),(24.5,35),(34.5,39),(44.5,33),
    (50.5,65),(52.5,62),(54.5,67),(56.5,64),(58.5,70),(60.5,61),(62.5,69),(64.5,66),(66.5,63),(68.5,68),(70.5,61),(72.5,65),(74.5,68),
    (76.5,64),(78.5,70),(80.5,62),(82.5,67),(84.5,65),(86.5,70),(88.5,63),(90.5,67),(92.5,62),(94.5,68),(96.5,64),(55.5,72),(65.5,74),
    (75.5,72),(85.5,74),(95.5,73),(60.5,57),(70.5,56),(80.5,58),(90.5,56)]

punti_1 = [quadratic, square, cubic, logarithm, exponential]
punti_2 = [cosine, sine, root4, circle, step]

# ---------------- impaginazione (pixel) ----------------
col_x = [122, 362, 601, 846, 1087]
pannelli_x1 = [(24, 222), (272, 469), (517, 714), (752, 949), (992, 1189)]
pannelli_x2 = [(23, 223), (272, 469), (517, 709), (752, 949), (991, 1189)]
riga1 = dict(titolo=34, formule=126, passo=46, pannello=(236, 433))
riga2 = dict(titolo=503, formule=615, passo=46, pannello=(766, 964))

fig = plt.figure(figsize=(W / 100, H / 100), dpi=100)
bg = fig.add_axes([0, 0, 1, 1])
bg.set_xlim(0, W)
bg.set_ylim(H, 0)
bg.axis('off')

# filetti della tabella
bg.plot([0, W], [7, 7], color='k', lw=1.8)
bg.plot([0, W], [62, 62], color='k', lw=1.0)
bg.plot([0, W], [476, 476], color='k', lw=1.0)
bg.plot([0, W], [531, 531], color='k', lw=1.0)
bg.plot([0, W], [1001, 1001], color='k', lw=1.8)

fs = 20


def disegna_riga(titoli, formule, punti, pannelli_x, riga):
    for i in range(5):
        bg.text(col_x[i], riga['titolo'], titoli[i], ha='center', va='center',
                fontsize=fs, family='cmr10')
        n = len(formule[i])
        for k, f in enumerate(formule[i]):
            y = riga['formule'] + (k - (n - 1) / 2) * riga['passo']
            bg.text(col_x[i], y, f, ha='center', va='center', fontsize=fs)
        x0, x1 = pannelli_x[i]
        top, bot = riga['pannello']
        ax = fig.add_axes([x0 / W, 1 - bot / H, (x1 - x0) / W, (bot - top) / H])
        px, py = zip(*punti[i])
        ax.scatter(px, py, s=6, color='k', linewidths=0)
        ax.set_xlim(0, 100)
        ax.set_ylim(0, 100)
        ax.set_xticks([])
        ax.set_yticks([])
        for sp in ax.spines.values():
            sp.set_linewidth(0.8)


disegna_riga(titoli_1, formule_1, punti_1, pannelli_x1, riga1)
disegna_riga(titoli_2, formule_2, punti_2, pannelli_x2, riga2)

fig.savefig('out.png', dpi=100)
